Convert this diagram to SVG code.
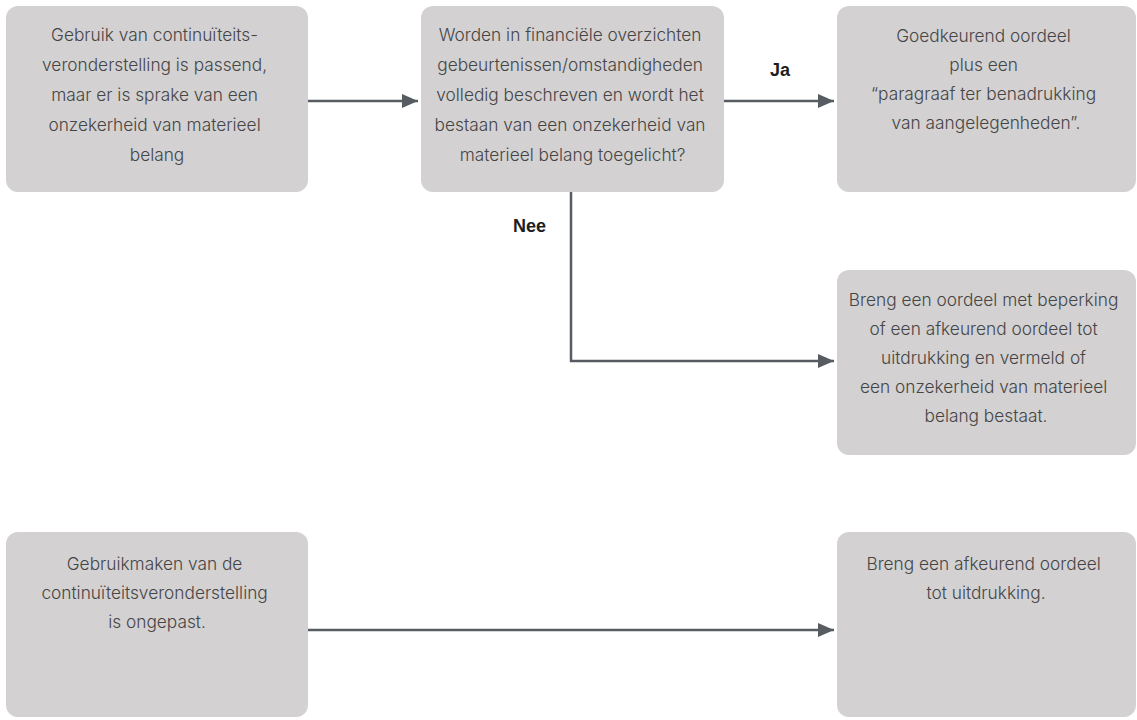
<svg xmlns="http://www.w3.org/2000/svg" width="1137" height="720" viewBox="0 0 1137 720">
  <defs>
    <marker id="arrow" viewBox="0 0 16 14" refX="16" refY="7" markerWidth="16" markerHeight="14" markerUnits="userSpaceOnUse" orient="auto">
      <path d="M0,0 L16,7 L0,14 Z" fill="#575c63"/>
    </marker>
    <style>
      .box { fill: #d3d1d2; }
      .txt { font-family: Inter, "Open Sans", sans-serif; font-weight: 300; font-size: 17.3px; fill: #454545; text-anchor: middle; }
      .lbl { font-family: "Liberation Sans", Arial, sans-serif; font-weight: bold; font-size: 18px; fill: #1e1e1e; text-anchor: middle; }
      .conn { fill: none; stroke: #575c63; stroke-width: 2.5; }
    </style>
  </defs>
  <rect width="1137" height="720" fill="#ffffff"/>

  <!-- connectors -->
  <g id="connectors">
    <line class="conn" x1="308" y1="101" x2="418" y2="101" marker-end="url(#arrow)"/>
    <line class="conn" x1="724" y1="101" x2="834" y2="101" marker-end="url(#arrow)"/>
    <polyline class="conn" points="571,192 571,361 834,361" marker-end="url(#arrow)"/>
    <line class="conn" x1="308" y1="630" x2="834" y2="630" marker-end="url(#arrow)"/>
    <text class="lbl" x="780" y="76">Ja</text>
    <text class="lbl" x="529.5" y="232">Nee</text>
  </g>

  <!-- appropriate, material uncertainty -->
  <g id="node-passend">
    <rect class="box" x="6" y="6" width="302" height="186" rx="12"/>
    <text class="txt">
      <tspan x="157" y="41">Gebruik van continuïteits-</tspan>
      <tspan x="157" y="71">veronderstelling is passend,</tspan>
      <tspan x="157" y="101">maar er is sprake van een</tspan>
      <tspan x="157" y="131">onzekerheid van materieel</tspan>
      <tspan x="157" y="161">belang</tspan>
    </text>
  </g>

  <!-- disclosure question -->
  <g id="node-vraag">
    <rect class="box" x="421" y="6" width="303" height="186" rx="12"/>
    <text class="txt">
      <tspan x="572.5" y="41">Worden in financiële overzichten</tspan>
      <tspan x="572.5" y="71">gebeurtenissen/omstandigheden</tspan>
      <tspan x="572.5" y="101">volledig beschreven en wordt het</tspan>
      <tspan x="572.5" y="131">bestaan van een onzekerheid van</tspan>
      <tspan x="572.5" y="161">materieel belang toegelicht?</tspan>
    </text>
  </g>

  <!-- unqualified opinion with emphasis paragraph -->
  <g id="node-goedkeurend">
    <rect class="box" x="837" y="6" width="299" height="186" rx="12"/>
    <text class="txt">
      <tspan x="986" y="42">Goedkeurend oordeel</tspan>
      <tspan x="986" y="71">plus een</tspan>
      <tspan x="986" y="100">“paragraaf ter benadrukking</tspan>
      <tspan x="986" y="129">van aangelegenheden”.</tspan>
    </text>
  </g>

  <!-- qualified or adverse opinion -->
  <g id="node-beperking">
    <rect class="box" x="837" y="270" width="299" height="185" rx="12"/>
    <text class="txt">
      <tspan x="986" y="306">Breng een oordeel met beperking</tspan>
      <tspan x="986" y="335">of een afkeurend oordeel tot</tspan>
      <tspan x="986" y="364">uitdrukking en vermeld of</tspan>
      <tspan x="986" y="393">een onzekerheid van materieel</tspan>
      <tspan x="986" y="422">belang bestaat.</tspan>
    </text>
  </g>

  <!-- going concern inappropriate -->
  <g id="node-ongepast">
    <rect class="box" x="6" y="532" width="302" height="185" rx="12"/>
    <text class="txt">
      <tspan x="157" y="570">Gebruikmaken van de</tspan>
      <tspan x="157" y="599">continuïteitsveronderstelling</tspan>
      <tspan x="157" y="628">is ongepast.</tspan>
    </text>
  </g>

  <!-- adverse opinion -->
  <g id="node-afkeurend">
    <rect class="box" x="837" y="532" width="299" height="185" rx="12"/>
    <text class="txt">
      <tspan x="986" y="570">Breng een afkeurend oordeel</tspan>
      <tspan x="986" y="599">tot uitdrukking.</tspan>
    </text>
  </g>
</svg>
